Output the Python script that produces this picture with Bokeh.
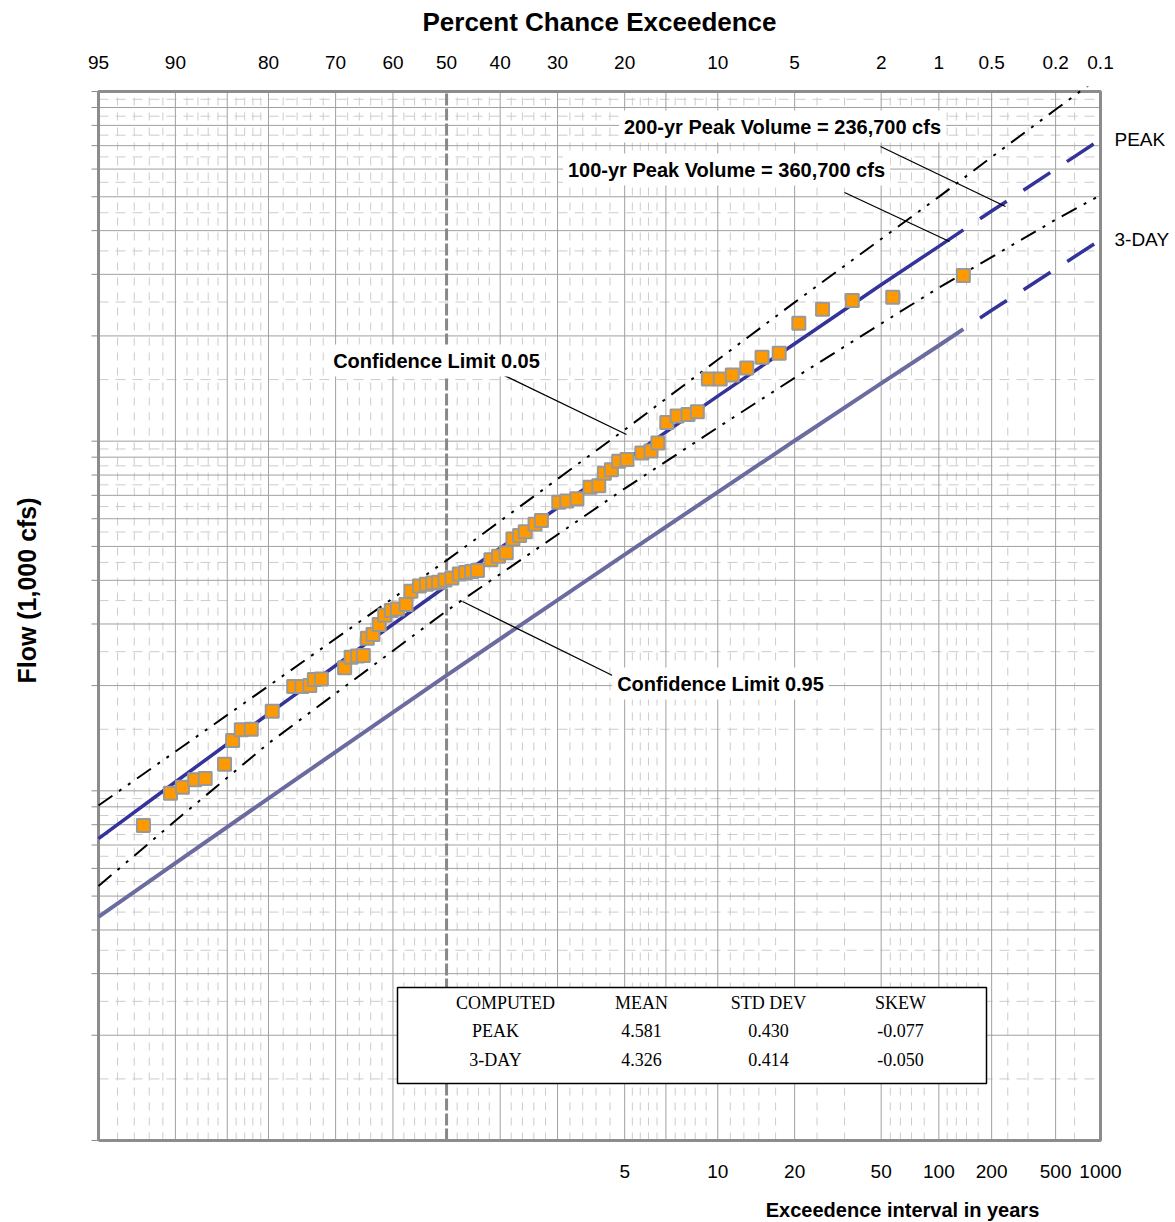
import math
from statistics import NormalDist
from bokeh.plotting import figure
from bokeh.models import Range1d, Label, BoxAnnotation
from bokeh.embed import file_html
from bokeh.resources import INLINE

# ---------------- data ----------------
top_ticks_pct = [95, 90, 80, 70, 60, 50, 40, 30, 20, 10, 5, 2, 1, 0.5, 0.2, 0.1]
top_tick_labels = ["95", "90", "80", "70", "60", "50", "40", "30", "20", "10", "5", "2", "1", "0.5", "0.2", "0.1"]
bottom_ticks_years = [5, 10, 20, 50, 100, 200, 500, 1000]
bottom_tick_labels = ["5", "10", "20", "50", "100", "200", "500", "1000"]

# frequency curves (flow in 1,000 cfs at percent chance exceedance)
curve_pct = [95, 90, 80, 50, 20, 10, 5, 2, 1, 0.73, 0.5, 0.2, 0.1]
peak_flow = [7.3, 10.6, 16.6, 38.6, 88.0, 134.5, 190.0, 280.0, 360.7, 402.0, 455.0, 600.0, 729.0]
day3_flow = [4.36, 6.21, 9.52, 21.4, 47.4, 71.5, 100.3, 146.3, 187.8, 209.2, 236.7, 310.8, 376.5]

cl_pct = [95, 90, 80, 50, 20, 10, 5, 2, 1, 0.5, 0.2, 0.1]
cl05_flow = [9.08, 12.95, 19.94, 45.6, 107.8, 170.9, 249.4, 378.7, 499.7, 649.4, 888.0, 1105.0]
cl95_flow = [5.34, 8.21, 13.67, 32.7, 73.2, 109.4, 151.7, 216.9, 274.7, 336.1, 429.9, 505.1]

# observed annual peaks
obs_pct = [92.4, 90.4, 89.4, 88.3, 87.3, 85.3, 84.4, 83.4, 82.2, 79.5,
           76.5, 75.3, 74.1, 73.4, 72.3, 68.5, 67.4, 66.3, 65.3, 64.6,
           63.6, 62.5, 61.5, 60.3, 59.2, 57.6, 56.7, 55.1, 53.8, 52.6,
           51.5, 50.3, 49.0, 47.6, 46.4, 45.3, 44.2, 41.7, 40.3, 38.9,
           37.7, 36.5, 35.5, 33.8, 32.7, 29.8, 28.5, 26.9, 24.9, 23.6,
           22.8, 21.8, 20.8, 19.7, 17.8, 16.7, 15.9, 14.9, 13.8, 12.7,
           11.8, 10.8, 9.8, 8.85, 7.8, 6.8, 5.8, 4.8, 3.78, 2.76,
           1.75, 0.73]
obs_flow = [7.96, 9.84, 10.24, 10.75, 10.84, 11.92, 13.93, 14.94, 15.0, 16.89,
            19.87, 19.87, 20.0, 20.8, 20.9, 22.5, 24.1, 24.3, 24.4, 27.3,
            28.0, 29.9, 31.8, 32.8, 33.1, 34.1, 37.2, 38.5, 39.0, 39.3,
            39.5, 40.1, 40.6, 41.7, 42.1, 42.4, 42.7, 45.8, 46.9, 48.0,
            52.5, 53.7, 55.1, 57.9, 59.3, 66.9, 67.4, 68.4, 73.8, 74.6,
            80.9, 82.8, 87.6, 88.6, 92.5, 93.7, 98.8, 113.0, 118.1, 119.2,
            121.3, 150.7, 150.7, 154.7, 162.0, 173.8, 178.4, 217.4, 238.2, 252.5,
            257.9, 297.5]

stats_header = ["COMPUTED", "MEAN", "STD DEV", "SKEW"]
stats_peak = ["PEAK", "4.581", "0.430", "-0.077"]
stats_3day = ["3-DAY", "4.326", "0.414", "-0.050"]

# grid definitions
h_major = list(range(2, 10)) + list(range(10, 100, 10)) + list(range(100, 1000, 100))
h_minor = [v + 0.5 for v in range(1, 10)] + [v * 10 + 5 for v in range(1, 10)] + [v * 100 + 50 for v in range(1, 10)]
v_major = [90, 85, 80, 70, 60, 40, 30, 20, 15, 10, 5, 2, 1, 0.5, 0.2]
v_minor = [94, 93, 92, 91, 89, 88, 87, 86, 84, 83, 82, 81, 78, 76, 74, 72, 68, 66, 64, 62,
           58, 56, 54, 52, 48, 46, 44, 42, 38, 36, 34, 32, 28, 26, 24, 22, 19, 18, 17, 16,
           14, 13, 12, 11, 9, 8, 7, 6, 4, 3, 1.8, 1.6, 1.4, 1.2, 0.9, 0.8, 0.7, 0.6, 0.4, 0.3, 0.15]

# ---------------- scales ----------------
nd = NormalDist()


def zval(pct):
    return nd.inv_cdf(1.0 - pct / 100.0)


X0, X1 = zval(95), zval(0.1)      # chart x extent (probability scale, normal deviate)
Y0, Y1 = 1, 1000                  # chart y extent (log scale, 1,000 cfs)

# page-pixel layout of the chart frame
W, H = 1175, 1222
FL, FR, FT, FB = 98, 1100, 91, 1140


def x_at(px):
    return X0 + (px - FL) / (FR - FL) * (X1 - X0)


def y_at(py):
    return 10 ** (math.log10(Y1 / Y0) * (FB - py) / (FB - FT)) * Y0


p = figure(width=W, height=H, x_range=Range1d(x_at(0), x_at(W)), y_range=Range1d(y_at(H), y_at(0)),
           y_axis_type="log", x_axis_location=None, y_axis_location=None, min_border=0,
           toolbar_location=None, output_backend="svg",
           background_fill_color="white", border_fill_color="white")
p.xgrid.visible = False
p.ygrid.visible = False
p.outline_line_color = None

# ---------------- grid ----------------
p.segment(x0=[X0] * len(h_minor), y0=h_minor, x1=[X1] * len(h_minor), y1=h_minor,
          line_color="#cccccc", line_width=1, line_dash="10 7")
vmz = [zval(v) for v in v_minor]
p.segment(x0=vmz, y0=[Y0] * len(vmz), x1=vmz, y1=[Y1] * len(vmz),
          line_color="#cccccc", line_width=1, line_dash="8 7")
p.segment(x0=[X0] * len(h_major), y0=h_major, x1=[X1] * len(h_major), y1=h_major,
          line_color="#a0a0a0", line_width=1)
vMz = [zval(v) for v in v_major]
p.segment(x0=vMz, y0=[Y0] * len(vMz), x1=vMz, y1=[Y1] * len(vMz),
          line_color="#a0a0a0", line_width=1)
p.segment(x0=[zval(50)], y0=[Y0], x1=[zval(50)], y1=[Y1],
          line_color="#888888", line_width=3, line_dash="12 3")

# outer ticks on the left
tick_vals = [Y0] + h_major + [Y1]
p.segment(x0=[x_at(FL - 7)] * len(tick_vals), y0=tick_vals, x1=[X0] * len(tick_vals), y1=tick_vals,
          line_color="#8c8c8c", line_width=1)

# chart border
p.line([X0, X1, X1, X0, X0], [Y0, Y0, Y1, Y1, Y0], line_color="#8c8c8c", line_width=3)

# ---------------- curves ----------------
cz = [zval(v) for v in curve_pct]
split = curve_pct.index(0.73)
p.line(cz[:split + 1], day3_flow[:split + 1], line_color="#6b6ba0", line_width=4)
p.line(cz[split:], day3_flow[split:], line_color="#333399", line_width=3.5,
       line_dash="32 20", line_dash_offset=32)

clz = [zval(v) for v in cl_pct]
p.line(clz, cl05_flow, line_color="black", line_width=2, line_dash="17 8 3 8 3 8")
p.line(clz, cl95_flow, line_color="black", line_width=2, line_dash="17 8 3 8 3 8")

p.line(cz[:split + 1], peak_flow[:split + 1], line_color="#333399", line_width=3.5)
p.line(cz[split:], peak_flow[split:], line_color="#333399", line_width=3.5,
       line_dash="32 20", line_dash_offset=32)

# leader lines (page pixel anchors)
leaders = [((880, 146), (1005, 206)),
           ((844, 192), (949, 241)),
           ((483, 365), (626, 434)),
           ((462, 601), (612, 675))]
p.segment(x0=[x_at(a[0]) for a, b in leaders], y0=[y_at(a[1]) for a, b in leaders],
          x1=[x_at(b[0]) for a, b in leaders], y1=[y_at(b[1]) for a, b in leaders],
          line_color="black", line_width=1.3)

# observations
p.scatter([zval(v) for v in obs_pct], obs_flow, marker="square", size=13,
          fill_color="#ff9900", line_color="#999999", line_width=2)

# cover the part of the upper confidence line that runs above the chart
p.quad(left=[x_at(0)], right=[x_at(W)], bottom=[y_at(FT - 5)], top=[y_at(0)],
       fill_color="white", line_color=None)

SANS = "Liberation Sans"


def lab(text, px, py, size, bold=False, align="center", angle=0.0, bg=None, font=SANS):
    kw = dict(x=x_at(px), y=y_at(py), text=text, text_font=font,
              text_font_size=f"{size}px", text_font_style="bold" if bold else "normal",
              text_align=align, text_baseline="middle", text_color="black", angle=angle)
    if bg:
        kw.update(background_fill_color=bg, background_fill_alpha=1.0, padding=5)
    p.add_layout(Label(**kw))


# axis titles and tick labels
lab("Percent Chance Exceedence", 599, 21, 26, bold=True)
for v, t in zip(top_ticks_pct, top_tick_labels):
    lab(t, FL + (zval(v) - X0) / (X1 - X0) * (FR - FL), 62, 19)
for T, t in zip(bottom_ticks_years, bottom_tick_labels):
    lab(t, FL + (zval(100.0 / T) - X0) / (X1 - X0) * (FR - FL), 1171, 19)
lab("Exceedence interval in years", 902, 1209, 20, bold=True)
lab("Flow (1,000 cfs)", 26, 590, 25, bold=True, angle=math.pi / 2)
lab("PEAK", 1114, 139, 19, align="left")
lab("3-DAY", 1114, 239, 19, align="left")

# callouts
lab("200-yr Peak Volume = 236,700 cfs", 782, 126, 20, bold=True, bg="white")
lab("100-yr Peak Volume = 360,700 cfs", 726, 169, 20, bold=True, bg="white")
lab("Confidence Limit 0.05", 436, 360, 20, bold=True, bg="white")
lab("Confidence Limit 0.95", 720, 683, 20, bold=True, bg="white")

# statistics box
p.add_layout(BoxAnnotation(left=x_at(397), right=x_at(986), top=y_at(987), bottom=y_at(1083),
                           fill_color="white", fill_alpha=1.0, line_color="black",
                           line_alpha=1.0, line_width=1.5))
SERIF = "Liberation Serif"
col_x = [505, 641, 768, 900]
row_y = [1002, 1030, 1059]
for r, row in enumerate([stats_header, stats_peak, stats_3day]):
    for c, t in enumerate(row):
        cx = col_x[c]
        if c == 0 and r > 0:
            cx = 495
        lab(t, cx, row_y[r], 18, font=SERIF)

open("out.html", "w").write(file_html(p, INLINE))
